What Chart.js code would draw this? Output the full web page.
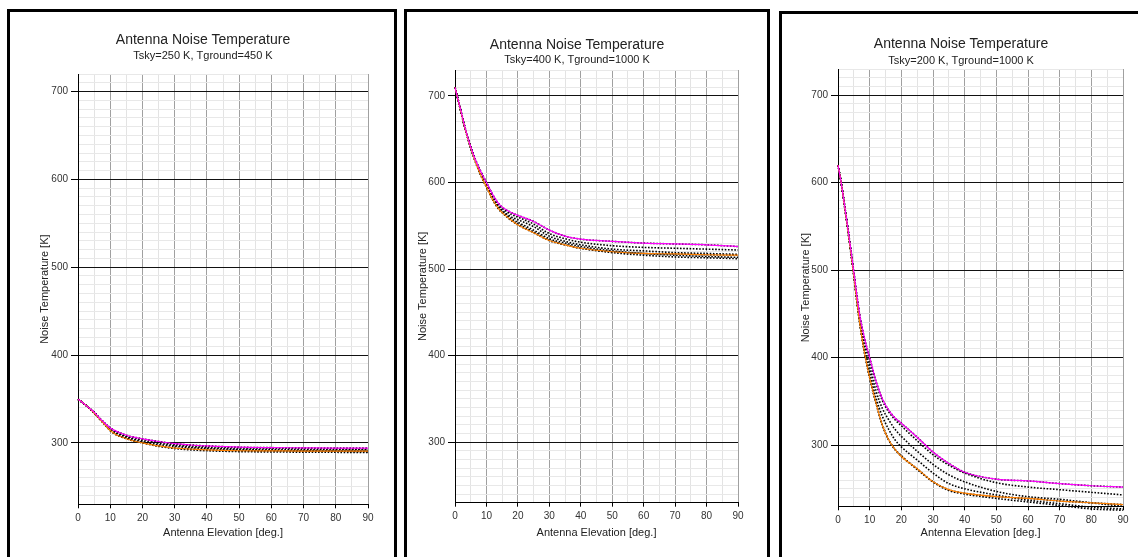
<!DOCTYPE html>
<html>
<head>
<meta charset="utf-8">
<script src="https://cdn.jsdelivr.net/npm/chart.js@4.4.0/dist/chart.umd.min.js"></script>
<style>
  body { margin: 0; width: 1138px; height: 557px; overflow: hidden; background: #fff; position: relative; }
  .frame { position: absolute; border: 3px solid #000; box-sizing: border-box; height: 620px; }
  canvas { position: absolute; top: 0; }
</style>
</head>
<body>
<div class="frame" style="left:7px;top:9px;width:390px"></div>
<div class="frame" style="left:404px;top:9px;width:366px"></div>
<div class="frame" style="left:779px;top:11px;width:400px"></div>
<canvas id="p1" width="345" height="557" style="left:38px"></canvas>
<canvas id="p2" width="337" height="557" style="left:416px"></canvas>
<canvas id="p3" width="339" height="557" style="left:799px"></canvas>
<script>
// elevation angles shared by every curve (deg)
const elevation = [0,1,2,3,4,5,6,7,8,9,10,12,14,16,18,20,25,30,35,40,50,60,70,80,90];

// Tsky=250 K, Tground=450 K
const p1Magenta = [349.5,347,344,341,338,335,331,327,323.5,320,317,313,310,307.5,306,304.5,301.5,299,297.5,296.5,295,294.5,294.3,294,294];
const p1Orange  = [349.5,347,344,341,337.5,334,330,326,322,318,314,309,306,303.5,301.5,300,296.5,294,293,292,291,290.8,290.6,290.5,290.5];
const p1Dot1 = [349.5,347,344,341,338,335,331,327,323.5,320,317,312.5,309.5,307,305.5,304,301,298.5,297,296,294.5,294,293.5,293.2,293];
const p1Dot2 = [349.5,347,344,341,338,334.5,330.5,326.5,323,319.5,316,311.5,308.5,306,304,302.5,299.5,297,295.5,294.5,293,292.5,292.2,292,292];
const p1Dot3 = [349.5,347,344,341,337.5,334,330,326,322.5,318.5,315,310.5,307.5,305,303,301,298,296,294.5,293.5,292,291.5,291,290.5,290];
const p1Dot4 = [349.5,347,344,341,337.5,334,330,326,322,318,314,309,306,303.5,301.5,300,296,293.5,292,291,290,289.6,289.4,289.2,289];

// Tsky=400 K, Tground=1000 K
const p2Magenta = [710,695.5,681,666,653,641,631,622,614,607,600,586,575,569,565,562,555,545,538,534.5,532,530,529,528,526];
const p2Orange  = [710,695,680,665,652,640,629,619,610,602,595,580,569,562,556,551,542,533,528,524,520,518,517.5,516.5,516];
const p2Dot1 = [710,695.5,681,666,653,641,631,622,614,606.5,599.5,585,574,567.5,563,560,552,541,535,531,527,525,524,523,522];
const p2Dot2 = [710,695.5,680.5,665.5,652.5,640.5,630,621,613,605,598,583,572,565,560,557,549,538,532,528,523,521,519,518,517];
const p2Dot3 = [710,695,680,665,652,640,629.5,620,611.5,603.5,596.5,581.5,570.5,563.5,558,554,545,535,530,526,521,518,516,514.5,513.5];
const p2Dot4 = [710,695,680,665,652,640,629,619,610,602,595,580,569,562,556,552,543,533,528,524,519,516,514,513,512];

// Tsky=200 K, Tground=1000 K
const p3Magenta = [620,600,576,551,525,498,470,446,428,413,400,373,353,340,331,325,309,292,279,269,261,259,256,253.5,252];
const p3Orange  = [620,600,575,549,522,494,463,436,413,394,377,348,323,306,295,287,273,258,249,245,241,239,236,234,232];
const p3Dot1 = [620,600,576,551,524,497,469,445,426,411,398,371,351,338,329,322,305,289,277,268,257,252,249,246,243];
const p3Dot2 = [620,600,576,550,523,495,466,441,420,404,390,362,342,329,318,310,293,278,266,258,247,241,238,234,230];
const p3Dot3 = [620,600,575,550,522,494,464,438,416,398,383,354,333,318,306,298,283,268,256,250,243,237,233,229,227];
const p3Dot4 = [620,600,575,549,522,494,463,436,413,394,377,348,323,306,295,288,272,258,248,244,239,235,231,227,225.5];

const FONT = "'Liberation Sans', Arial, sans-serif";

function pts(arr) {
  return elevation.map((x, i) => ({ x: x, y: arr[i] }));
}

function solid(arr, color) {
  return { data: pts(arr), borderColor: color, borderWidth: 1.2, pointRadius: 0,
           cubicInterpolationMode: 'monotone', clip: false };
}
function dotted(arr) {
  return { data: pts(arr), borderColor: '#000', borderWidth: 1.6, borderDash: [1.6, 1.6],
           pointRadius: 0, cubicInterpolationMode: 'monotone', clip: false };
}

function makeChart(id, sub, yMax, lay, curves) {
  const ctx = document.getElementById(id).getContext('2d');
  new Chart(ctx, {
    type: 'line',
    data: {
      datasets: [
        solid(curves.magenta, '#ff00ff'),
        solid(curves.orange, '#ff8000'),
        dotted(curves.dots[0]), dotted(curves.dots[1]),
        dotted(curves.dots[2]), dotted(curves.dots[3]),
        dotted(curves.magenta), dotted(curves.orange)
      ]
    },
    options: {
      responsive: false,
      animation: false,
      layout: { padding: { top: lay.top, right: 15, bottom: 17.4, left: 0 } },
      plugins: {
        legend: { display: false },
        tooltip: { enabled: false },
        title: { display: true, text: 'Antenna Noise Temperature', color: '#222',
                 font: { family: FONT, size: 14, weight: 'normal' },
                 padding: { top: 0, bottom: lay.b1 } },
        subtitle: { display: true, text: sub, color: '#222',
                    font: { family: FONT, size: 11 },
                    padding: { top: 0, bottom: lay.b2 } }
      },
      scales: {
        x: {
          type: 'linear', min: 0, max: 90,
          // fixed height so the plot bottom lands where the original has it
          afterFit: s => { s.height = 557 - 17.4 - lay.plotBottom; },
          ticks: { stepSize: 5, autoSkip: false, maxRotation: 0, padding: 3.5, color: '#333',
                   font: { family: FONT, size: 10 },
                   callback: v => (v % 10 === 0 ? v : '') },
          grid: { tickLength: 4,
                  color: c => (c.tick && c.tick.value % 10 === 0 ? '#a0a0a0' : '#e3e3e3'),
                  tickColor: c => (c.tick && c.tick.value % 10 === 0 ? '#000' : 'rgba(0,0,0,0)') },
          border: { color: '#000', width: 1 },
          title: { display: true, text: 'Antenna Elevation [deg.]', color: '#222',
                   font: { family: FONT, size: 11 }, padding: { top: 0, bottom: 0 } }
        },
        y: {
          min: 230, max: yMax,
          afterFit: s => { s.width = lay.axisW; },
          ticks: { stepSize: 10, autoSkip: false, padding: 3, color: '#333',
                   font: { family: FONT, size: 10 },
                   callback: v => (v % 100 === 0 ? v : '') },
          grid: { tickLength: 7,
                  color: c => (c.tick && c.tick.value % 100 === 0 ? '#111' : '#e8e8e8'),
                  tickColor: c => (c.tick && c.tick.value % 100 === 0 ? '#000' : 'rgba(0,0,0,0)') },
          border: { color: '#000', width: 1 },
          title: { display: true, text: 'Noise Temperature [K]', color: '#222',
                   font: { family: FONT, size: 11 }, padding: { top: 0, bottom: 0 } }
        }
      }
    }
  });
}

makeChart('p1', 'Tsky=250 K, Tground=450 K', 720,
  { top: 31.4, b1: 1, b2: 11.6, plotBottom: 504.3, axisW: 40 },
  { magenta: p1Magenta, orange: p1Orange, dots: [p1Dot1, p1Dot2, p1Dot3, p1Dot4] });

makeChart('p2', 'Tsky=400 K, Tground=1000 K', 730,
  { top: 36.4, b1: 0.5, b2: 3.1, plotBottom: 502.7, axisW: 39 },
  { magenta: p2Magenta, orange: p2Orange, dots: [p2Dot1, p2Dot2, p2Dot3, p2Dot4] });

makeChart('p3', 'Tsky=200 K, Tground=1000 K', 730,
  { top: 35.4, b1: 2, b2: 1.6, plotBottom: 506.3, axisW: 39 },
  { magenta: p3Magenta, orange: p3Orange, dots: [p3Dot1, p3Dot2, p3Dot3, p3Dot4] });
</script>
</body>
</html>
